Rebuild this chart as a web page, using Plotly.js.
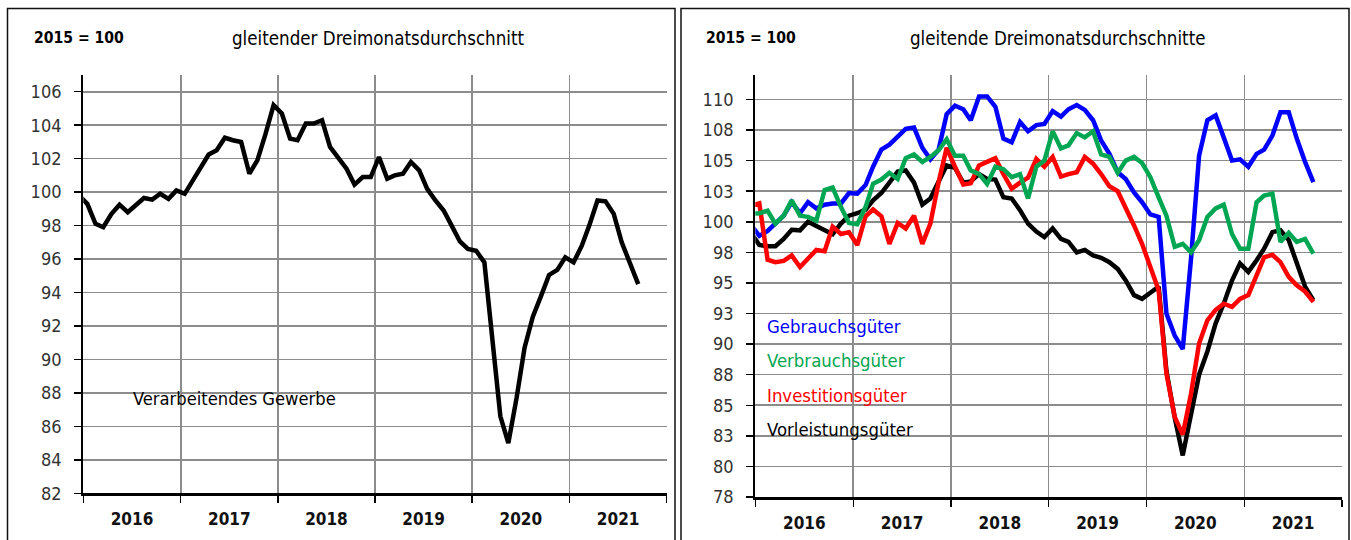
<!DOCTYPE html>
<html>
<head>
<meta charset="utf-8">
<script src="https://cdn.plot.ly/plotly-3.0.1.min.js"></script>
<style>
html,body{margin:0;padding:0;background:#fff;}
#chart{width:1351px;height:540px;}
</style>
</head>
<body>
<div id="chart"></div>
<script>
// ---- data (3-month moving averages, 2015 = 100), Dec 2015 .. Sep 2021 ----
const firstMonth = {year: 2015, month: 12};

const gewerbe = [99.8,
  99.3, 98.1, 97.9, 98.7, 99.25, 98.8, 99.25, 99.65, 99.55, 99.9, 99.6, 100.1,
  99.9, 100.75, 101.5, 102.25, 102.5, 103.25, 103.1, 103.0, 101.1, 101.9, 103.5, 105.2,
  104.7, 103.2, 103.1, 104.1, 104.1, 104.3, 102.7, 102.0, 101.4, 100.45, 100.9, 100.9,
  102.1, 100.8, 101.0, 101.1, 101.8, 101.3, 100.2, 99.5, 98.9, 98.0, 97.05, 96.6,
  96.5, 95.8, 91.1, 86.6, 85.0, 87.7, 90.7, 92.55, 93.8, 95.05, 95.35, 96.1,
  95.8, 96.8, 98.0, 99.5, 99.45, 98.7, 97.0, 95.7, 94.5];

const gebrauch = [99.75,
  98.85, 99.25, 99.9, 100.5, 101.6, 100.7, 101.6, 101.1, 101.4, 101.5, 101.5, 102.35,
  102.3, 103.0, 104.5, 105.9, 106.3, 106.9, 107.6, 107.7, 106.05, 105.1, 105.9, 108.8,
  109.5, 109.2, 108.3, 110.25, 110.25, 109.4, 106.8, 106.5, 108.15, 107.4, 107.9, 108.0,
  109.05, 108.6, 109.2, 109.55, 109.15, 108.3, 106.65, 105.55, 104.05, 103.5, 102.4, 101.6,
  100.6, 100.4, 92.5, 90.7, 89.6, 97.0, 105.4, 108.3, 108.7, 106.9, 105.0, 105.1,
  104.5, 105.55, 105.9, 107.05, 108.95, 108.95, 106.8, 104.9, 103.25];

const verbrauch = [100.65,
  100.7, 100.9, 99.85, 100.5, 101.75, 100.5, 100.4, 100.1, 102.6, 102.8, 101.2, 99.9,
  99.8, 101.2, 103.1, 103.45, 104.0, 103.5, 105.2, 105.5, 104.9, 105.3, 105.85, 106.75,
  105.4, 105.4, 104.2, 103.9, 103.1, 104.5, 104.3, 103.65, 103.9, 101.9, 104.5, 105.0,
  107.4, 106.0, 106.25, 107.25, 106.9, 107.4, 105.5, 105.3, 104.0, 105.0, 105.3, 104.8,
  103.65, 102.0, 100.5, 97.95, 98.2, 97.5, 98.5, 100.4, 101.1, 101.4, 99.0, 97.8,
  97.8, 101.6, 102.15, 102.3, 98.35, 99.1, 98.35, 98.6, 97.4];

const investition = [101.3,
  101.5, 96.9, 96.7, 96.8, 97.25, 96.3, 97.0, 97.7, 97.6, 99.6, 99.0, 99.15,
  98.1, 100.45, 101.0, 100.45, 98.2, 99.9, 99.45, 100.5, 98.2, 99.85, 103.25, 106.05,
  104.5, 103.05, 103.15, 104.6, 104.9, 105.2, 103.9, 102.7, 103.2, 103.6, 105.15, 104.5,
  105.3, 103.7, 103.9, 104.05, 105.3, 104.75, 103.9, 102.9, 102.5, 101.2, 99.7, 98.2,
  96.3, 94.4, 87.6, 84.05, 82.6, 85.95, 90.05, 91.95, 92.8, 93.3, 93.05, 93.7,
  94.0, 95.75, 97.1, 97.3, 96.7, 95.5, 94.8, 94.3, 93.45];

const vorleistung = [99.1,
  98.1, 98.0, 98.0, 98.6, 99.35, 99.3, 100.0, 99.65, 99.35, 98.98, 99.85, 100.5,
  100.7, 101.0, 101.75, 102.35, 103.2, 104.1, 104.2, 103.2, 101.4, 101.9, 103.3, 104.6,
  104.4, 103.2, 103.3, 103.9, 103.5, 103.45, 102.0, 101.9, 100.95, 99.85, 99.2, 98.75,
  99.45, 98.6, 98.35, 97.5, 97.7, 97.25, 97.05, 96.7, 96.15, 95.2, 94.0, 93.7,
  94.2, 94.7, 87.8, 84.0, 80.9, 84.1, 87.5, 89.4, 91.7, 93.3, 95.2, 96.6,
  95.9, 96.85, 97.8, 99.15, 99.3, 98.5, 96.6, 94.7, 93.6];

const yearTicks = ['2016-01-01', '2022-01-01'];
const leftYTicks = [82, 84, 86, 88, 90, 92, 94, 96, 98, 100, 102, 104, 106];
const rightYTicks = [77.5, 80, 82.5, 85, 87.5, 90, 92.5, 95, 97.5, 100, 102.5, 105, 107.5, 110];
const rightYText = rightYTicks.map(v => String(Math.round(v)));

const seriesNames = ['Gebrauchsgüter', 'Verbrauchsgüter', 'Investitionsgüter', 'Vorleistungsgüter'];
const seriesColors = ['#0000ff', '#00a651', '#ff0000', '#000000'];

// monthly date categories (points sit mid-month)
function monthDates(n) {
  const out = [];
  let y = firstMonth.year, m = firstMonth.month;
  for (let i = 0; i < n; i++) {
    out.push(y + '-' + String(m).padStart(2, '0') + '-16');
    m++; if (m > 12) { m = 1; y++; }
  }
  return out;
}
const dates = monthDates(gewerbe.length);

// ---- layout helpers ----
const W = 1351, H = 540;
const FONT = 'Liberation Sans Narrow, DejaVu Sans Condensed, Arial Narrow, sans-serif';
const px = x => x / W;
const py = y => 1 - y / H;
const GRID = '#8c8c8c';

function xAxis(dom, anchor) {
  return {
    domain: dom, anchor: anchor, type: 'date', range: yearTicks,
    dtick: 'M12', tick0: '2016-01-01', tickformat: '%Y', ticklabelmode: 'period',
    showgrid: true, gridcolor: GRID, gridwidth: 1.6,
    ticks: 'outside', ticklen: 7, tickwidth: 1.5, tickcolor: '#000',
    showline: true, linecolor: '#000', linewidth: 2.5, zeroline: false,
    ticklabelstandoff: 2,
    tickfont: {family: FONT, size: 17, color: '#111', weight: 'bold'},
    fixedrange: true
  };
}
function yAxis(dom, anchor, range, vals, text) {
  const a = {
    domain: dom, anchor: anchor, range: range, tickmode: 'array', tickvals: vals,
    showgrid: true, gridcolor: GRID, gridwidth: 1.6,
    ticks: 'outside', ticklen: 7, tickwidth: 1.5, tickcolor: '#000',
    showline: true, linecolor: '#000', linewidth: 2.2, zeroline: false,
    ticklabelstandoff: 9,
    tickfont: {family: FONT, size: 18, color: '#333'},
    fixedrange: true
  };
  if (text) a.ticktext = text;
  return a;
}

const traces = [
  {x: dates, y: gewerbe, xaxis: 'x', yaxis: 'y', type: 'scatter', mode: 'lines',
   line: {color: '#000', width: 4.5}, hoverinfo: 'skip', name: 'Verarbeitendes Gewerbe'}
];
const rightSeries = [gebrauch, verbrauch, investition, vorleistung];
const drawOrder = [3, 0, 2, 1];
drawOrder.forEach(k => {
  traces.push({x: dates, y: rightSeries[k], xaxis: 'x2', yaxis: 'y2', type: 'scatter', mode: 'lines',
    line: {color: seriesColors[k], width: 4.5}, hoverinfo: 'skip', name: seriesNames[k]});
});

const annotations = [
  {text: '2015 = 100', x: px(32), y: py(38), xref: 'paper', yref: 'paper', xanchor: 'left', yanchor: 'middle',
   showarrow: false, font: {family: FONT, size: 15.6, color: '#000', weight: 'bold'}},
  {text: 'gleitender Dreimonatsdurchschnitt', x: px(230), y: py(38), xref: 'paper', yref: 'paper', xanchor: 'left', yanchor: 'middle',
   showarrow: false, font: {family: FONT, size: 18.6, color: '#000'}},
  {text: '2015 = 100', x: px(704), y: py(38), xref: 'paper', yref: 'paper', xanchor: 'left', yanchor: 'middle',
   showarrow: false, font: {family: FONT, size: 15.6, color: '#000', weight: 'bold'}},
  {text: 'gleitende Dreimonatsdurchschnitte', x: px(908), y: py(38), xref: 'paper', yref: 'paper', xanchor: 'left', yanchor: 'middle',
   showarrow: false, font: {family: FONT, size: 18.6, color: '#000'}},
  {text: 'Verarbeitendes Gewerbe', x: px(234), y: py(398), xref: 'paper', yref: 'paper', xanchor: 'center', yanchor: 'middle',
   showarrow: false, font: {family: FONT, size: 18.2, color: '#000'}}
];
const legendY = [326, 360, 395, 429];
seriesNames.forEach((n, k) => {
  annotations.push({text: n, x: px(765), y: py(legendY[k]), xref: 'paper', yref: 'paper', xanchor: 'left', yanchor: 'middle',
    showarrow: false, font: {family: FONT, size: 18.4, color: seriesColors[k]}});
});

const shapes = [
  {type: 'rect', xref: 'paper', yref: 'paper', x0: px(110), x1: px(362), y0: py(378), y1: py(417),
   fillcolor: '#fff', line: {width: 0}, layer: 'between'},
  {type: 'rect', xref: 'paper', yref: 'paper', x0: px(762), x1: px(916), y0: py(306), y1: py(445),
   fillcolor: '#fff', line: {width: 0}, layer: 'between'},
  {type: 'rect', xref: 'paper', yref: 'paper', x0: px(7.5), x1: px(675), y0: py(8.5), y1: py(560),
   line: {color: '#111', width: 1.5}, layer: 'above'},
  {type: 'rect', xref: 'paper', yref: 'paper', x0: px(681), x1: px(1349), y0: py(8.5), y1: py(560),
   line: {color: '#111', width: 1.5}, layer: 'above'}
];

const layout = {
  width: W, height: H, margin: {l: 0, r: 0, t: 0, b: 0},
  paper_bgcolor: '#fff', plot_bgcolor: '#fff', showlegend: false,
  xaxis: xAxis([px(83.3), px(666.7)], 'y'),
  yaxis: yAxis([py(493.3), py(75)], 'x', [82, 107], leftYTicks),
  xaxis2: xAxis([px(755.3), px(1342)], 'y2'),
  yaxis2: yAxis([py(497), py(75)], 'x2', [77.5, 112], rightYTicks, rightYText),
  annotations: annotations,
  shapes: shapes
};

Plotly.newPlot('chart', traces, layout, {staticPlot: true, displayModeBar: false});
</script>
</body>
</html>
